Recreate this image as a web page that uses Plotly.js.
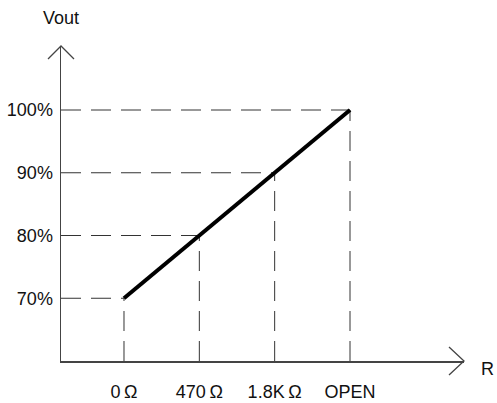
<!DOCTYPE html>
<html>
<head>
<meta charset="utf-8">
<script src="https://cdn.plot.ly/plotly-3.0.1.min.js"></script>
<style>html,body{margin:0;padding:0;background:#fff;}#chart{width:497px;height:403px;}</style>
</head>
<body>
<div id="chart"></div>
<script>
const categories = ['0\u2009\u03A9', '470\u2009\u03A9', '1.8K\u2009\u03A9', 'OPEN'];
const vout = [70, 80, 90, 100];
const yTickVals = [70, 80, 90, 100];
const yTickLabels = ['70%', '80%', '90%', '100%'];

const xIdx = categories.map((c, i) => i);
const xRange = [-0.836, 4.513];
const yRange = [60, 110.2];

const traces = [];
// dashed guide lines, drawn from axes toward each point
xIdx.forEach((xi, i) => {
  traces.push({
    x: [xRange[0], xi], y: [vout[i], vout[i]], mode: 'lines', type: 'scatter',
    line: {color: '#333', width: 1, dash: '20px,10px'}, hoverinfo: 'skip', showlegend: false
  });
  traces.push({
    x: [xi, xi], y: [yRange[0], vout[i]], mode: 'lines', type: 'scatter',
    line: {color: '#333', width: 1, dash: '20px,10px'}, hoverinfo: 'skip', showlegend: false
  });
});
traces.push({
  x: xIdx, y: vout, mode: 'lines', type: 'scatter',
  line: {color: '#000', width: 4}, showlegend: false
});

const font = {family: 'Liberation Sans, Arial, sans-serif', size: 18, color: '#111'};

const layout = {
  width: 497, height: 403,
  margin: {l: 61, r: 33, t: 46, b: 42},
  paper_bgcolor: '#fff', plot_bgcolor: '#fff',
  font: font,
  showlegend: false,
  xaxis: {
    range: xRange, tickvals: xIdx, ticktext: categories,
    showgrid: false, zeroline: false, showline: true, linecolor: '#444', linewidth: 1.5,
    ticks: '', ticklabelstandoff: 14, tickfont: font, fixedrange: true, automargin: false
  },
  yaxis: {
    range: yRange, tickvals: yTickVals, ticktext: yTickLabels,
    showgrid: false, zeroline: false, showline: true, linecolor: '#444', linewidth: 1.5,
    ticks: '', ticklabelstandoff: 3, tickfont: font, fixedrange: true, automargin: false
  },
  shapes: [
    {type: 'path', xref: 'paper', yref: 'paper', xsizemode: 'pixel', ysizemode: 'pixel',
     xanchor: 0, yanchor: 1, path: 'M-13,-13 L0,0 L13,-13', line: {color: '#444', width: 1.3}},
    {type: 'path', xref: 'paper', yref: 'paper', xsizemode: 'pixel', ysizemode: 'pixel',
     xanchor: 1, yanchor: 0, path: 'M-15,14 L0,0 L-15,-14', line: {color: '#444', width: 1.3}}
  ],
  annotations: [
    {text: 'Vout', xref: 'paper', yref: 'paper', x: 0, y: 1, xanchor: 'center', yanchor: 'bottom',
     yshift: 16, showarrow: false, font: font},
    {text: 'R', xref: 'paper', yref: 'paper', x: 1, y: 0, xanchor: 'left', yanchor: 'middle',
     xshift: 15, yshift: -8, showarrow: false, font: font}
  ]
};

Plotly.newPlot('chart', traces, layout, {displayModeBar: false, staticPlot: true});
</script>
</body>
</html>
